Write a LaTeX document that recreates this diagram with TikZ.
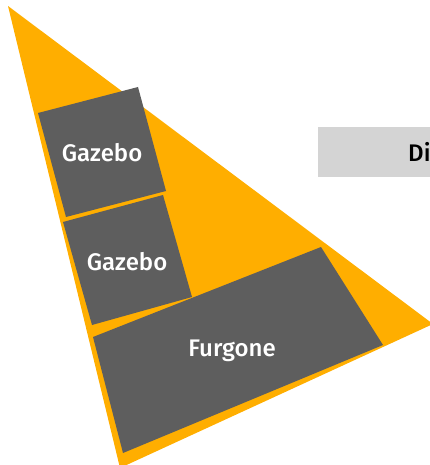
\documentclass[tikz,border=0pt]{standalone}
\usepackage{fontspec}
\setmainfont{Fira Sans}[BoldFont={Fira Sans Medium}]
\usepackage{tikz}
\usepackage{xcolor}
\definecolor{amber}{HTML}{FFAE00}
\definecolor{slate}{HTML}{5E5E5E}
\definecolor{mist}{HTML}{D4D4D4}

\begin{document}
\begin{tikzpicture}
  [x=1pt,y=-1pt,every node/.style={font=\bfseries\fontsize{24}{24}\selectfont,text=white}]
  \clip (0,0) rectangle (430,465);
  \coordinate (t1) at (8,6);
  \coordinate (t2) at (433,324);
  \coordinate (t3) at (120,468);
  \fill[amber] (t1) -- (t2) -- (t3) -- cycle;

  \fill[slate] (38,113) -- (138,87) -- (166,191) -- (66,217) -- cycle;
  \fill[slate] (63,222) -- (163,195) -- (192,297) -- (92,325) -- cycle;
  \fill[slate] (93,337) -- (321,247) -- (383,345) -- (123,453) -- cycle;

  \node (g1) at (102,153) {Gazebo};
  \node (g2) at (127,262) {Gazebo};
  \node (f1) at (232,351) {Furgone};

  \fill[mist] (318,127) rectangle (440,177);
  \node[anchor=west,text=black,inner sep=0pt] (d1) at (408,152) {Di};
\end{tikzpicture}
\end{document}
